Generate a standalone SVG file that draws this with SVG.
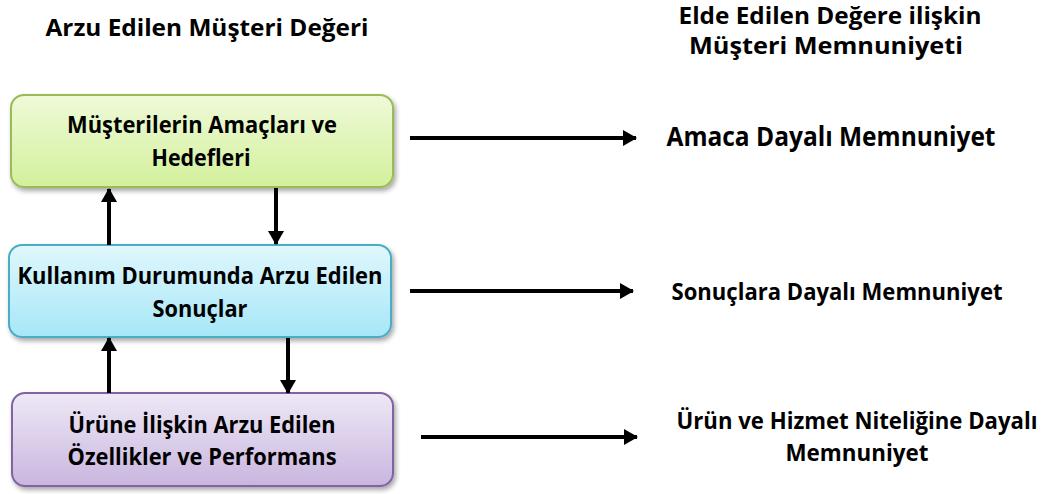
<svg xmlns="http://www.w3.org/2000/svg" width="1048" height="494" viewBox="0 0 1048 494">
  <style>
    text { font-family: "Open Sans", "Noto Sans", "Liberation Sans", sans-serif; font-weight: 700; fill: #000; text-anchor: middle; }
    .hdr { font-size: 24px; }
    .hdr-top { font-size: 22.5px; }
    .box { font-size: 24px; }
    .res { font-size: 26px; }
    .res-sm { font-size: 22.5px; }
    .conn line { stroke: #000; stroke-width: 4; }
  </style>
  <defs>
    <linearGradient id="gGreen" x1="0" y1="0" x2="0" y2="1">
      <stop offset="0" stop-color="#effad9"/>
      <stop offset="1" stop-color="#d3f09b"/>
    </linearGradient>
    <linearGradient id="gBlue" x1="0" y1="0" x2="0" y2="1">
      <stop offset="0" stop-color="#e0f7fd"/>
      <stop offset="1" stop-color="#a6e7f8"/>
    </linearGradient>
    <linearGradient id="gPurple" x1="0" y1="0" x2="0" y2="1">
      <stop offset="0" stop-color="#eee8f6"/>
      <stop offset="1" stop-color="#c9b6df"/>
    </linearGradient>
    <filter id="shadow" x="-5%" y="-10%" width="112%" height="130%">
      <feGaussianBlur in="SourceAlpha" stdDeviation="2.5"/>
      <feOffset dx="1.5" dy="3" result="b"/>
      <feComponentTransfer><feFuncA type="linear" slope="0.35"/></feComponentTransfer>
      <feMerge><feMergeNode/><feMergeNode in="SourceGraphic"/></feMerge>
    </filter>
    <marker id="arrow" markerUnits="userSpaceOnUse" markerWidth="16" markerHeight="16" viewBox="0 0 14 16" refX="13" refY="8" orient="auto">
      <path d="M0,0 L14,8 L0,16 Z" fill="#000"/>
    </marker>
  </defs>

  <!-- column headings -->
  <g id="heading-left">
    <text class="hdr" x="207" y="36" textLength="323" lengthAdjust="spacingAndGlyphs">Arzu Edilen Müşteri Değeri</text>
  </g>
  <g id="heading-right">
    <text class="hdr-top" x="830" y="24" textLength="303" lengthAdjust="spacingAndGlyphs">Elde Edilen Değere ilişkin</text>
    <text class="hdr" x="826" y="54" textLength="274" lengthAdjust="spacingAndGlyphs">Müşteri Memnuniyeti</text>
  </g>

  <!-- value levels -->
  <g id="node-goals">
    <rect x="11" y="95" width="382" height="92" rx="13" fill="url(#gGreen)" stroke="#9bbb59" stroke-width="2" filter="url(#shadow)"/>
    <text class="box" x="202" y="133" textLength="270" lengthAdjust="spacingAndGlyphs">Müşterilerin Amaçları ve</text>
    <text class="box" x="201" y="166" textLength="99" lengthAdjust="spacingAndGlyphs">Hedefleri</text>
  </g>
  <g id="node-consequences">
    <rect x="9" y="245" width="382" height="92" rx="13" fill="url(#gBlue)" stroke="#4bacc6" stroke-width="2" filter="url(#shadow)"/>
    <text class="box" x="200" y="284" textLength="365" lengthAdjust="spacingAndGlyphs">Kullanım Durumunda Arzu Edilen</text>
    <text class="box" x="200" y="317" textLength="95" lengthAdjust="spacingAndGlyphs">Sonuçlar</text>
  </g>
  <g id="node-attributes">
    <rect x="12" y="393" width="381" height="93" rx="13" fill="url(#gPurple)" stroke="#8064a2" stroke-width="2" filter="url(#shadow)"/>
    <text class="box" x="202" y="433" textLength="267" lengthAdjust="spacingAndGlyphs">Ürüne İlişkin Arzu Edilen</text>
    <text class="box" x="202" y="465" textLength="269" lengthAdjust="spacingAndGlyphs">Özellikler ve Performans</text>
  </g>

  <!-- satisfaction outcomes -->
  <g id="node-goal-satisfaction">
    <text class="res" x="831" y="146" textLength="329" lengthAdjust="spacingAndGlyphs">Amaca Dayalı Memnuniyet</text>
  </g>
  <g id="node-consequence-satisfaction">
    <text class="res-sm" x="837" y="300" textLength="331" lengthAdjust="spacingAndGlyphs">Sonuçlara Dayalı Memnuniyet</text>
  </g>
  <g id="node-attribute-satisfaction">
    <text class="res-sm" x="857" y="429" textLength="361" lengthAdjust="spacingAndGlyphs">Ürün ve Hizmet Niteliğine Dayalı</text>
    <text class="res-sm" x="857" y="461" textLength="143" lengthAdjust="spacingAndGlyphs">Memnuniyet</text>
  </g>

  <!-- connectors -->
  <g id="connectors" class="conn">
    <line x1="109" y1="245" x2="109" y2="189" marker-end="url(#arrow)"/>
    <line x1="276" y1="188" x2="276" y2="244" marker-end="url(#arrow)"/>
    <line x1="109" y1="393" x2="109" y2="338" marker-end="url(#arrow)"/>
    <line x1="288" y1="338" x2="288" y2="393" marker-end="url(#arrow)"/>
    <line x1="410" y1="138" x2="636" y2="138" marker-end="url(#arrow)"/>
    <line x1="410" y1="291" x2="633" y2="291" marker-end="url(#arrow)"/>
    <line x1="421" y1="437" x2="637" y2="437" marker-end="url(#arrow)"/>
  </g>
</svg>
